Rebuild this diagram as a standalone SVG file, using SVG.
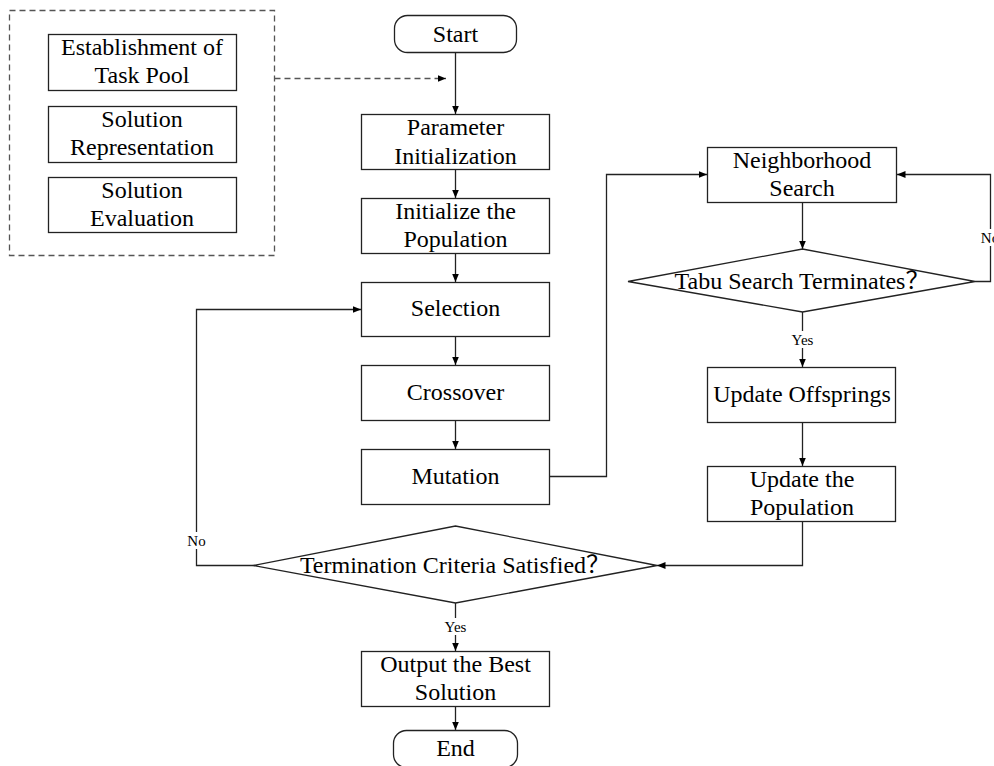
<svg xmlns="http://www.w3.org/2000/svg" width="994" height="766" viewBox="0 0 994 766">
<defs>
<marker id="arr" markerWidth="9" markerHeight="8" refX="8.5" refY="3.5" orient="auto" markerUnits="userSpaceOnUse">
<path d="M0,0 L8.5,3.5 L0,7 z" fill="#000"/>
</marker>
<style>
.box{fill:#fff;stroke:#222;stroke-width:1.3}
.t{font-family:"Liberation Serif","Noto Sans CJK SC",serif;font-size:24px;fill:#000;text-anchor:middle}
.s{font-family:"Liberation Serif",serif;font-size:15px;fill:#000;text-anchor:middle}
.ln{fill:none;stroke:#222;stroke-width:1.3}
.dash{fill:none;stroke:#555;stroke-width:1.3;stroke-dasharray:6,4}
</style>
</defs>
<rect width="994" height="766" fill="#fff"/>

<g id="group-left">
<rect class="dash" x="9.5" y="10.5" width="265" height="245"/>
</g>
<g id="n-taskpool"><rect class="box" x="48.5" y="34.5" width="188" height="56"/><text class="t" x="142" y="55">Establishment of</text><text class="t" x="142" y="83">Task Pool</text></g>
<g id="n-rep"><rect class="box" x="48.5" y="106.5" width="188" height="56"/><text class="t" x="142" y="127">Solution</text><text class="t" x="142" y="155">Representation</text></g>
<g id="n-eval"><rect class="box" x="48.5" y="177.5" width="188" height="55"/><text class="t" x="142" y="198">Solution</text><text class="t" x="142" y="226">Evaluation</text></g>

<g id="connectors">
<path class="dash" d="M274.5,78.5 H446" marker-end="url(#arr)"/>
<path class="ln" d="M455.5,52 V114" marker-end="url(#arr)"/>
<path class="ln" d="M455.5,170 V198" marker-end="url(#arr)"/>
<path class="ln" d="M455.5,254 V282" marker-end="url(#arr)"/>
<path class="ln" d="M455.5,337 V365" marker-end="url(#arr)"/>
<path class="ln" d="M455.5,421 V449" marker-end="url(#arr)"/>
<path class="ln" d="M549,476.5 H606.5 V174.5 H707" marker-end="url(#arr)"/>
<path class="ln" d="M802.5,202 V249" marker-end="url(#arr)"/>
<path class="ln" d="M975,281.5 H990.5 V174.5 H897" marker-end="url(#arr)"/>
<path class="ln" d="M802.5,312 V367" marker-end="url(#arr)"/>
<path class="ln" d="M802.5,422 V466" marker-end="url(#arr)"/>
<path class="ln" d="M802.5,521 V565.5 H657" marker-end="url(#arr)"/>
<path class="ln" d="M253,565.5 H196.5 V309.5 H361" marker-end="url(#arr)"/>
<path class="ln" d="M455.5,603 V651" marker-end="url(#arr)"/>
<path class="ln" d="M455.5,706 V730" marker-end="url(#arr)"/>
<rect x="786" y="331" width="33" height="17" fill="#fff"/>
<text class="s" x="802.5" y="345">Yes</text>
<rect x="438" y="618" width="35" height="17" fill="#fff"/>
<text class="s" x="455.5" y="632">Yes</text>
<rect x="184" y="532" width="25" height="17" fill="#fff"/>
<text class="s" x="196.5" y="546">No</text>
<rect x="979" y="229" width="20" height="17" fill="#fff"/>
<text class="s" x="990" y="243">No</text>
</g>

<g id="n-start"><rect class="box" x="394.5" y="15.5" width="122" height="37" rx="13"/><text class="t" x="455.5" y="42">Start</text></g>
<g id="n-param"><rect class="box" x="361.5" y="114.5" width="188" height="55"/><text class="t" x="455.5" y="135">Parameter</text><text class="t" x="455.5" y="164">Initialization</text></g>
<g id="n-initpop"><rect class="box" x="361.5" y="198.5" width="188" height="55"/><text class="t" x="455.5" y="219">Initialize the</text><text class="t" x="455.5" y="247">Population</text></g>
<g id="n-selection"><rect class="box" x="361.5" y="282.5" width="188" height="54"/><text class="t" x="455.5" y="316">Selection</text></g>
<g id="n-crossover"><rect class="box" x="361.5" y="365.5" width="188" height="55"/><text class="t" x="455.5" y="400">Crossover</text></g>
<g id="n-mutation"><rect class="box" x="361.5" y="449.5" width="188" height="55"/><text class="t" x="455.5" y="484">Mutation</text></g>
<g id="n-neigh"><rect class="box" x="707.5" y="147.5" width="189" height="55"/><text class="t" x="802" y="168">Neighborhood</text><text class="t" x="802" y="196">Search</text></g>
<g id="n-tabu"><polygon class="box" points="628,281.5 802.5,249 975,281.5 802.5,312"/><text class="t" x="802" y="289">Tabu Search Terminates？</text></g>
<g id="n-offspring"><rect class="box" x="707.5" y="367.5" width="188" height="55"/><text class="t" x="802" y="402">Update Offsprings</text></g>
<g id="n-updpop"><rect class="box" x="707.5" y="466.5" width="188" height="55"/><text class="t" x="802" y="487">Update the</text><text class="t" x="802" y="515">Population</text></g>
<g id="n-term"><polygon class="box" points="253,565.5 455.5,526 657,565.5 455.5,603"/><text class="t" x="455" y="573">Termination Criteria Satisfied？</text></g>
<g id="n-output"><rect class="box" x="361.5" y="651.5" width="188" height="55"/><text class="t" x="455.5" y="672">Output the Best</text><text class="t" x="455.5" y="700">Solution</text></g>
<g id="n-end"><rect class="box" x="393.5" y="730.5" width="124" height="37" rx="13"/><text class="t" x="455.5" y="756">End</text></g>
</svg>
